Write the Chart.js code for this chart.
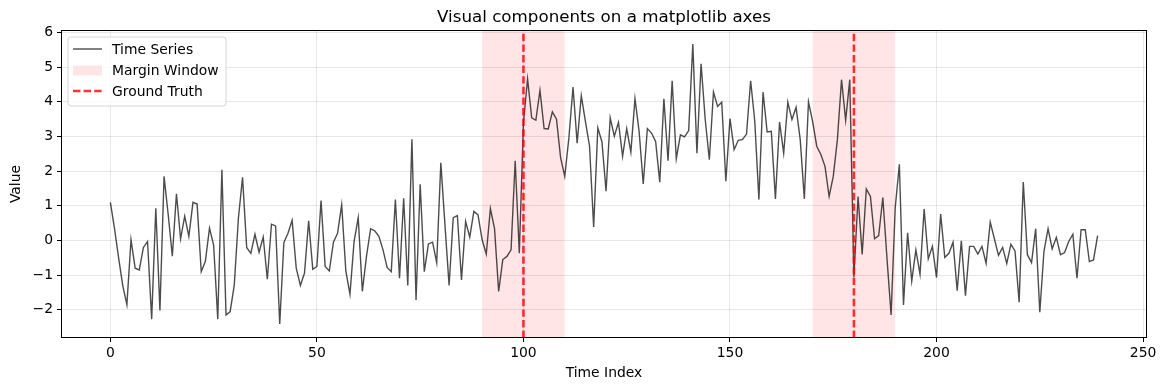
<!DOCTYPE html>
<html>
<head>
<meta charset="utf-8">
<script src="https://cdn.jsdelivr.net/npm/chart.js@4.4.1/dist/chart.umd.min.js"></script>
<style>
html,body{margin:0;padding:0;background:#fff;}
#wrap{width:1165px;height:392px;position:relative;}
</style>
</head>
<body>
<div id="wrap"><canvas id="c" width="1165" height="392"></canvas></div>
<script>
const seriesValues = [
 1.1, 0.35, -0.5, -1.3, -1.85, 0.02, -0.8, -0.85, -0.2, -0.03,
 -2.27, 0.93, -2.02, 1.85, 0.75, -0.45, 1.35, 0.05, 0.7, 0.12,
 1.1, 1.05, -0.9, -0.6, 0.36, -0.13, -2.27, 2.04, -2.15, -2.05,
 -1.28, 0.65, 1.82, -0.2, -0.37, 0.18, -0.34, 0.1, -1.12, 0.47,
 0.42, -2.41, -0.06, 0.21, 0.58, -0.8, -1.3, -0.94, 0.57, -0.83,
 -0.75, 1.15, -0.75, -0.88, -0.05, 0.21, 1.03, -0.88, -1.55, -0.03,
 0.66, -1.47, -0.46, 0.34, 0.28, 0.12, -0.27, -0.78, -0.9, 1.18,
 -1.09, 1.22, -1.3, 2.92, -1.72, 1.62, -0.9, -0.1, -0.05, -0.64,
 2.24, 0.45, -1.3, 0.66, 0.72, -1.14, 0.55, 0.1, 0.84, 0.74,
 0.02, -0.39, 0.92, 0.34, -1.47, -0.55, -0.46, -0.27, 2.3, -0.37,
 3.4, 4.66, 3.54, 3.47, 4.33, 3.23, 3.22, 3.71, 3.5, 2.38,
 1.85, 2.96, 4.43, 2.81, 4.18, 3.44, 2.72, 0.39, 3.25, 2.85,
 1.42, 3.54, 3.01, 3.41, 2.43, 3.23, 2.55, 4.09, 3.15, 1.63,
 3.23, 3.1, 2.86, 1.68, 4.09, 2.3, 4.61, 2.36, 3.05, 2.99,
 3.17, 5.67, 2.52, 5.1, 3.5, 2.33, 4.28, 3.87, 3.99, 1.71,
 3.52, 2.62, 2.89, 2.91, 3.07, 4.61, 3.44, 1.18, 4.28, 3.13,
 3.15, 1.2, 3.42, 2.52, 3.99, 3.49, 3.84, 2.91, 1.2, 4.0,
 3.44, 2.72, 2.48, 2.14, 1.27, 1.85, 2.91, 4.64, 3.47, 4.64,
 -1.05, 1.27, -0.4, 1.49, 1.27, 0.05, 0.14, 1.24, -0.51, -2.15,
 0.95, 2.2, -1.86, 0.22, -1.17, -0.27, -0.97, 0.91, -0.53, -0.17,
 -1.07, 0.76, -0.49, -0.37, -0.05, -1.45, -0.01, -1.59, -0.17, -0.17,
 -0.39, -0.17, -0.66, 0.53, 0.05, -0.43, -0.2, -0.66, -0.11, -0.3,
 -1.78, 1.69, -0.41, -0.64, 0.34, -2.07, -0.32, 0.34, -0.24, 0.09,
 -0.41, -0.35, -0.03, 0.18, -1.09, 0.31, 0.31, -0.61, -0.56, 0.14
];
const timeIndex = seriesValues.map((v, i) => i);
const marginWindows = [[90, 110], [170, 190]];
const groundTruth = [100, 180];
const xTicks = [0, 50, 100, 150, 200, 250];
const yTicks = [-2, -1, 0, 1, 2, 3, 4, 5, 6];
const xRange = [-11.95, 250.95];
const yRange = [-2.814, 6.074];

const FONT = "'DejaVu Sans', sans-serif";
const lineColor = 'rgba(0,0,0,0.7)';
const spanColor = 'rgba(255,0,0,0.1)';
const gtColor = 'rgba(255,0,0,0.8)';

const overlay = {
  id: 'overlay',
  beforeDatasetsDraw(chart) {
    const {ctx, chartArea: a, scales: {x}} = chart;
    ctx.save();
    ctx.beginPath(); ctx.rect(a.left, a.top, a.right - a.left, a.bottom - a.top); ctx.clip();
    ctx.fillStyle = spanColor;
    marginWindows.forEach(([s, e]) => {
      const x0 = x.getPixelForValue(s), x1 = x.getPixelForValue(e);
      ctx.fillRect(x0, a.top, x1 - x0, a.bottom - a.top);
    });
    ctx.restore();
  },
  afterDatasetsDraw(chart) {
    const {ctx, chartArea: a, scales: {x}} = chart;
    ctx.save();
    ctx.beginPath(); ctx.rect(a.left, a.top, a.right - a.left, a.bottom - a.top); ctx.clip();
    ctx.strokeStyle = gtColor; ctx.lineWidth = 2.6; ctx.setLineDash([7.4, 3.2]);
    groundTruth.forEach(g => {
      const px = x.getPixelForValue(g);
      ctx.beginPath(); ctx.moveTo(px, a.bottom); ctx.lineTo(px, a.top); ctx.stroke();
    });
    ctx.restore();
    // frame
    ctx.save();
    ctx.strokeStyle = '#000'; ctx.lineWidth = 1;
    ctx.strokeRect(a.left + 0.5, a.top + 0.5, a.right - a.left - 1, a.bottom - a.top - 1);
    ctx.restore();
    // title
    ctx.save();
    ctx.fillStyle = '#000'; ctx.font = "16.7px " + FONT;
    ctx.textAlign = 'center'; ctx.textBaseline = 'alphabetic';
    ctx.fillText('Visual components on a matplotlib axes', (a.left + a.right) / 2, 22);
    ctx.restore();
    // legend
    ctx.save();
    const lx = a.left + 7, ly = a.top + 7, lw = 158, lh = 69, r = 3;
    ctx.beginPath();
    ctx.moveTo(lx + r, ly); ctx.lineTo(lx + lw - r, ly); ctx.arcTo(lx + lw, ly, lx + lw, ly + r, r);
    ctx.lineTo(lx + lw, ly + lh - r); ctx.arcTo(lx + lw, ly + lh, lx + lw - r, ly + lh, r);
    ctx.lineTo(lx + r, ly + lh); ctx.arcTo(lx, ly + lh, lx, ly + lh - r, r);
    ctx.lineTo(lx, ly + r); ctx.arcTo(lx, ly, lx + r, ly, r); ctx.closePath();
    ctx.fillStyle = 'rgba(255,255,255,0.8)'; ctx.fill();
    ctx.strokeStyle = '#d6d6d6'; ctx.lineWidth = 1; ctx.stroke();
    const rows = [ly + 12, ly + 33.5, ly + 54];
    const hx0 = lx + 5, hx1 = lx + 34;
    ctx.strokeStyle = lineColor; ctx.lineWidth = 1.4;
    ctx.beginPath(); ctx.moveTo(hx0, rows[0]); ctx.lineTo(hx1, rows[0]); ctx.stroke();
    ctx.fillStyle = spanColor;
    ctx.fillRect(hx0, rows[1] - 5, hx1 - hx0, 10);
    ctx.strokeStyle = gtColor; ctx.lineWidth = 2.6; ctx.setLineDash([7.4, 3.2]);
    ctx.beginPath(); ctx.moveTo(hx0, rows[2]); ctx.lineTo(hx1, rows[2]); ctx.stroke();
    ctx.setLineDash([]);
    ctx.fillStyle = '#000'; ctx.font = "13.9px " + FONT; ctx.textAlign = 'left'; ctx.textBaseline = 'middle';
    ['Time Series', 'Margin Window', 'Ground Truth'].forEach((t, i) => ctx.fillText(t, lx + 44, rows[i] + 1));
    ctx.restore();
  }
};

new Chart(document.getElementById('c'), {
  type: 'line',
  data: {
    datasets: [{
      label: 'Time Series',
      data: timeIndex.map((t, i) => ({x: t, y: seriesValues[i]})),
      borderColor: lineColor,
      borderWidth: 1.4,
      pointRadius: 0,
      tension: 0,
      fill: false
    }]
  },
  options: {
    responsive: false,
    animation: false,
    devicePixelRatio: 1,
    layout: {padding: {top: 30, right: 18, left: 0, bottom: 0}},
    plugins: {legend: {display: false}, title: {display: false}, tooltip: {enabled: false}},
    scales: {
      x: {
        type: 'linear', min: xRange[0], max: xRange[1],
        afterBuildTicks: s => { s.ticks = xTicks.map(v => ({value: v})); },
        afterFit: s => { s.height = 54; },
        grid: {color: 'rgba(176,176,176,0.3)', tickColor: '#000', tickLength: 4, drawTicks: true},
        border: {display: false},
        ticks: {color: '#000', font: {family: FONT, size: 13.9}, padding: 3, maxRotation: 0,
          callback: v => String(v)},
        title: {display: true, text: 'Time Index', color: '#000', font: {family: FONT, size: 13.9}, padding: {top: 0, bottom: 10}}
      },
      y: {
        type: 'linear', min: yRange[0], max: yRange[1],
        afterBuildTicks: s => { s.ticks = yTicks.map(v => ({value: v})); },
        afterFit: s => { s.width = 61; },
        grid: {color: 'rgba(176,176,176,0.3)', tickColor: '#000', tickLength: 4, drawTicks: true},
        border: {display: false},
        ticks: {color: '#000', font: {family: FONT, size: 13.9}, padding: 4,
          callback: v => (v < 0 ? '\u2212' + Math.abs(v) : String(v))},
        title: {display: true, text: 'Value', color: '#000', font: {family: FONT, size: 13.9}, padding: {top: 8, bottom: 0}}
      }
    }
  },
  plugins: [overlay]
});
</script>
</body>
</html>
